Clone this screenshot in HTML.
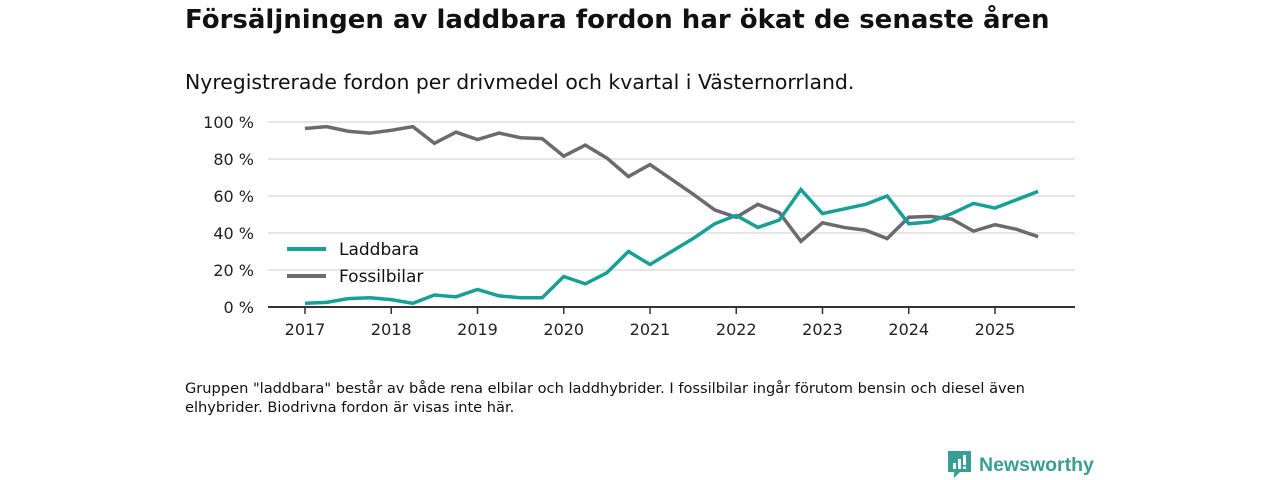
<!DOCTYPE html>
<html><head><meta charset="utf-8"><style>
body{margin:0;width:1280px;height:480px;background:#fff;font-family:"DejaVu Sans","Liberation Sans",sans-serif;color:#111;overflow:hidden;position:relative}
.t{position:absolute;left:185px;top:5px;font-size:26px;font-weight:bold;margin:0}
.s{position:absolute;left:185px;top:70px;font-size:20.4px}
.f{position:absolute;left:185px;top:379px;font-size:14.6px;line-height:19px;width:900px}
</style></head><body>
<h1 class="t">Försäljningen av laddbara fordon har ökat de senaste åren</h1>
<div class="s">Nyregistrerade fordon per drivmedel och kvartal i Västernorrland.</div>
<svg id="c" width="1280" height="480" style="position:absolute;left:0;top:0"></svg>
<div class="f">Gruppen "laddbara" består av både rena elbilar och laddhybrider. I fossilbilar ingår förutom bensin och diesel även elhybrider. Biodrivna fordon är visas inte här.</div>
<div style="position:absolute;left:948px;top:451px;display:flex;align-items:center">
<svg width="24" height="28"><path d="M0 0H23V21H12L6 27V21H0Z" fill="#3a9e94"/><rect x="5" y="12" width="3" height="6" fill="#fff"/><rect x="10" y="8" width="3" height="10" fill="#fff"/><rect x="15" y="4" width="3" height="10" fill="#fff"/><rect x="15" y="15.5" width="3" height="2.5" fill="#fff"/></svg>
<span style="margin-left:7px;font-size:19.5px;font-weight:bold;color:#3a9e94;font-family:'Liberation Sans',sans-serif">Newsworthy</span></div>
<script>
const years=[2017,2018,2019,2020,2021,2022,2023,2024,2025];
const yTicks=[0,20,40,60,80,100];
const laddbara=[2,2.5,4.5,5,4,2,6.5,5.5,9.5,6,5,5,16.5,12.5,18.5,30,23,30,37,45,49.5,43,47,63.5,50.5,53,55.5,60,45,46,50.5,56,53.5,58,62.5];
const fossil=[96.5,97.5,95,94,95.5,97.5,88.5,94.5,90.5,94,91.5,91,81.5,87.5,80.5,70.5,77,69,61,52.5,48.5,55.5,51,35.5,45.5,43,41.5,37,48.5,49,47.5,41,44.5,42,38];
const svg=document.getElementById('c'),NS='http://www.w3.org/2000/svg';
const X=t=>305+(t-2017)*86.25, Y=v=>307-v*1.85;
function el(tag,a,txt){const e=document.createElementNS(NS,tag);for(const k in a)e.setAttribute(k,a[k]);if(txt!=null)e.textContent=txt;svg.appendChild(e);return e;}
yTicks.forEach(v=>{
 if(v>0){const g=el('line',{x1:268,x2:1075,y1:Y(v),y2:Y(v),stroke:'#ddd','stroke-width':1.5});
 
 }
 const t=el('text',{x:254,y:Y(v)+6,'text-anchor':'end','font-size':16,fill:'#222'},v+' %');
 
 
});
const ax=el('line',{x1:268,x2:1075,y1:307,y2:307,stroke:'#333','stroke-width':2});


years.forEach(y=>{
 const tk=el('line',{x1:X(y),x2:X(y),y1:307,y2:314,stroke:'#333','stroke-width':1.5});
 
 
 const t=el('text',{x:X(y),y:335,'text-anchor':'middle','font-size':16,fill:'#222'},y);
 
 
});
function line(d,c,name){
 const p=d.map((v,i)=>X(2017+i/4)+','+Y(v)).join(' ');
 const l=el('polyline',{points:p,fill:'none',stroke:c,'stroke-width':3.5,'stroke-linejoin':'miter'});
 
 
}
line(fossil,'#6b6a70','fossilbilar-line');
line(laddbara,'#16a096','laddbara-line');
const lg=[['Laddbara','#16a096',249],['Fossilbilar','#6b6a70',276]];
lg.forEach(([n,c,y])=>{
 const m=el('line',{x1:287,x2:326,y1:y,y2:y,stroke:c,'stroke-width':4});
 
 
 const t=el('text',{x:339,y:y+6,'font-size':17,fill:'#111'},n);
 
 
});
</script>
</body></html>
